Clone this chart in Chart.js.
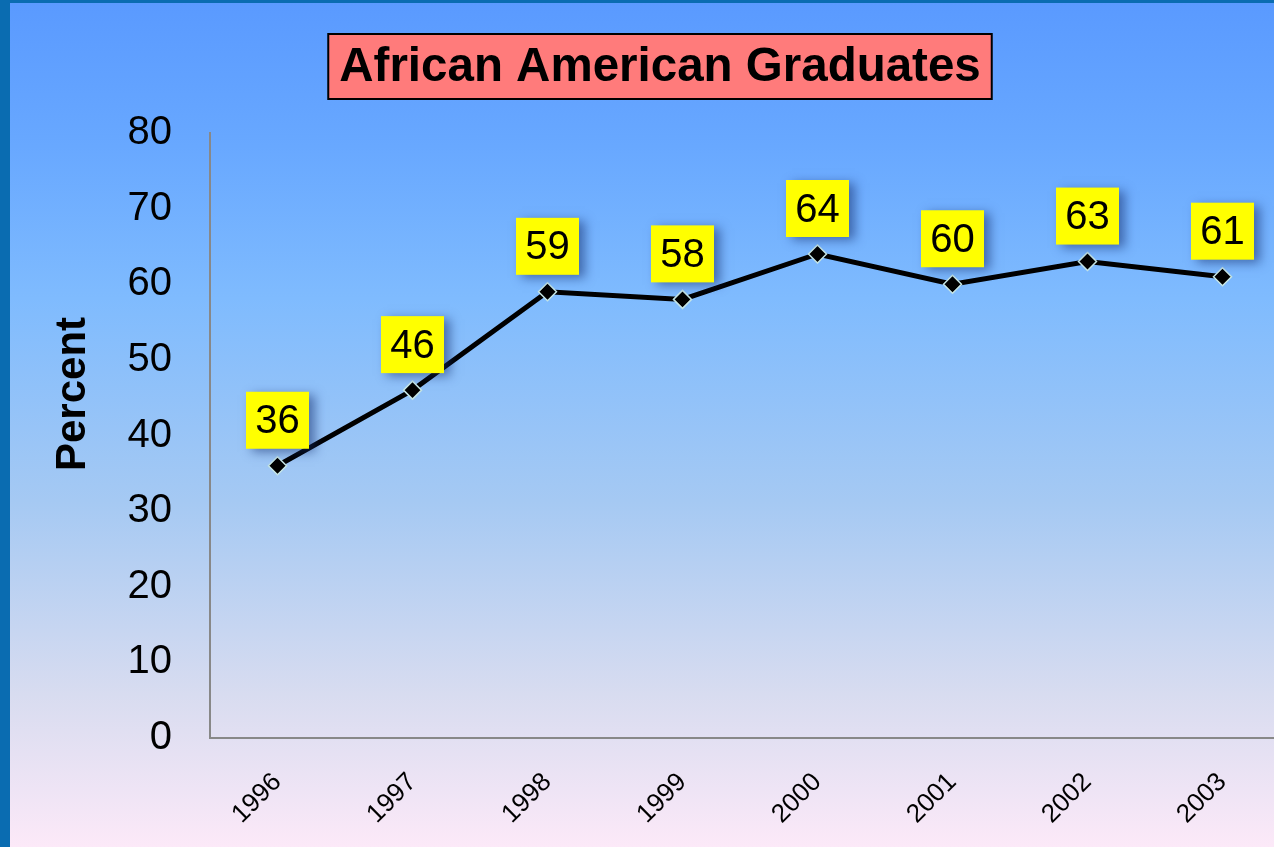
<!DOCTYPE html>
<html>
<head>
<meta charset="utf-8">
<script src="https://cdn.jsdelivr.net/npm/chart.js@4/dist/chart.umd.min.js"></script>
<style>
  html, body { margin: 0; padding: 0; overflow: hidden; }
  body { width: 1274px; height: 847px; background: #0a6cb1; position: relative; }
  #wrap {
    position: absolute; left: 10px; top: 3px; width: 1300px; height: 844px;
    background: linear-gradient(to bottom, #5a9aff 0%, #68a8ff 17%, #7fbbfe 35%, #a5c9f3 59%, #d8dcf0 82%, #fce9f8 100%);
  }
</style>
</head>
<body>
<div id="wrap"><canvas id="gradChart" width="1300" height="844"></canvas></div>
<script>
var years = ["1996", "1997", "1998", "1999", "2000", "2001", "2002", "2003"];
var percent = [36, 46, 59, 58, 64, 60, 63, 61];
var chartTitle = "African American Graduates";
var yTitle = "Percent";

// pink box behind the title
var titleBox = {
  id: 'titleBox',
  beforeDraw: function(chart) {
    var ctx = chart.ctx;
    var tb = chart.titleBlock;
    ctx.save();
    ctx.font = 'bold 47.5px "Liberation Sans", Arial, sans-serif';
    var w = ctx.measureText(chartTitle).width;
    var cx = (tb.left + tb.right) / 2;
    var cy = tb.top + 63.5;
    ctx.fillStyle = '#ff7b7b';
    ctx.fillRect(cx - w / 2 - 11, cy - 32.5, w + 22, 65);
    ctx.lineWidth = 2;
    ctx.strokeStyle = '#000';
    ctx.strokeRect(cx - w / 2 - 11, cy - 32.5, w + 22, 65);
    ctx.restore();
  },
  afterDraw: function(chart) {
    // y axis title, sits a bit above the axis middle
    var ctx = chart.ctx;
    ctx.save();
    ctx.translate(63, 391);
    ctx.rotate(-Math.PI / 2);
    ctx.font = 'bold 42px "Liberation Sans", Arial, sans-serif';
    ctx.fillStyle = '#000';
    ctx.textAlign = 'center';
    ctx.textBaseline = 'middle';
    ctx.fillText(yTitle, 0, 0);
    ctx.restore();
  }
};

// yellow value boxes above the points
var valueBoxes = {
  id: 'valueBoxes',
  afterDatasetsDraw: function(chart) {
    var ctx = chart.ctx;
    var meta = chart.getDatasetMeta(0);
    ctx.save();
    ctx.font = '40px "Liberation Sans", Arial, sans-serif';
    meta.data.forEach(function(pt, i) {
      var bw = 63, bh = 57;
      var x = pt.x - bw / 2, y = pt.y - 17 - bh;
      ctx.save();
      ctx.shadowColor = 'rgba(20, 45, 110, 0.55)';
      ctx.shadowBlur = 10;
      ctx.shadowOffsetX = 6;
      ctx.shadowOffsetY = 3;
      ctx.fillStyle = '#ffff00';
      ctx.fillRect(x, y, bw, bh);
      ctx.restore();
      ctx.fillStyle = '#000';
      ctx.textAlign = 'center';
      ctx.textBaseline = 'middle';
      ctx.fillText(String(percent[i]), pt.x, y + bh / 2 + 2);
    });
    ctx.restore();
  }
};

var ctx = document.getElementById('gradChart').getContext('2d');
var chart = new Chart(ctx, {
  type: 'line',
  data: {
    labels: years,
    datasets: [{
      data: percent,
      borderColor: '#000',
      borderWidth: 5,
      pointStyle: 'rectRot',
      pointRadius: 9,
      pointBackgroundColor: '#000',
      pointBorderColor: '#c4e4e4',
      pointBorderWidth: 1.5,
      tension: 0
    }]
  },
  options: {
    responsive: false,
    animation: false,
    layout: { padding: { left: 20, right: 20, top: 0, bottom: 0 } },
    plugins: {
      legend: { display: false },
      tooltip: { enabled: false },
      title: {
        display: true,
        text: chartTitle,
        color: '#000',
        font: { family: '"Liberation Sans", Arial, sans-serif', size: 47.5, weight: 'bold' },
        padding: { top: 36, bottom: 37 }
      }
    },
    scales: {
      x: {
        offset: true,
        grid: { display: false, drawTicks: false },
        border: { display: true, color: '#888', width: 2 },
        ticks: {
          color: '#000',
          font: { family: '"Liberation Sans", Arial, sans-serif', size: 26 },
          minRotation: 45,
          maxRotation: 45,
          padding: 29
        },
        afterFit: function(s) { s.height = 109; }
      },
      y: {
        min: 0,
        max: 80,
        grid: { display: false, drawTicks: false },
        border: { display: true, color: '#888', width: 2 },
        ticks: {
          stepSize: 10,
          color: '#000',
          font: { family: '"Liberation Sans", Arial, sans-serif', size: 40 },
          padding: 38
        },
        afterFit: function(s) { s.width = 180; }
      }
    }
  },
  plugins: [titleBox, valueBoxes]
});
</script>
</body>
</html>
